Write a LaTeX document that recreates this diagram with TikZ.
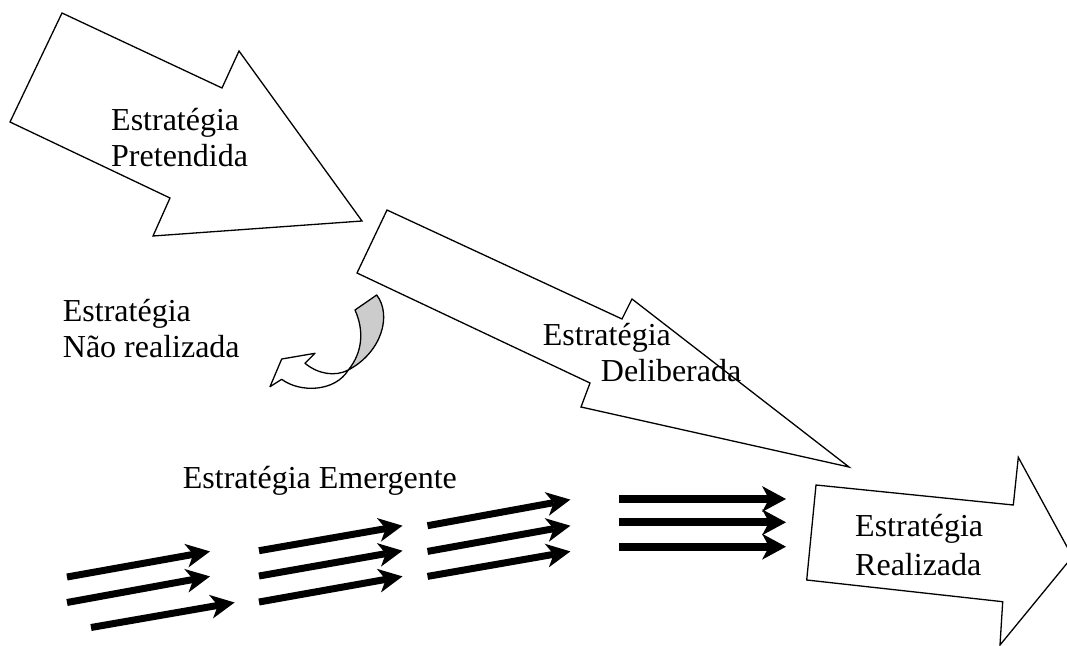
\documentclass[tikz,border=0pt]{standalone}
\usepackage{fontspec}
\setmainfont{Liberation Serif}
\usetikzlibrary{arrows.meta}
\tikzset{
  blockarrow/.style={draw=black, line width=1.3pt, fill=white, line join=miter},
  twistback/.style={draw=black, line width=1.3pt, fill=black!20, line join=round},
  lbl/.style={inner sep=0pt, anchor=base west, font=\fontsize{32}{37}\selectfont},
  emarrow/.style={line width=7pt, -{Stealth[length=24pt,width=24pt,inset=7pt,line width=0pt]}},
  flatarrow/.style={line width=8pt, -{Stealth[length=24pt,width=26pt,inset=7pt,line width=0pt]}}
}
\begin{document}
\begin{tikzpicture}[x=1pt,y=-1pt]
\useasboundingbox (0,0) rectangle (1067,645);
\clip (0,0) rectangle (1067,645);
% Estrategia Pretendida arrow
\path[blockarrow] (62,13) -- (222,88) -- (239,51) -- (362,221) -- (153,236) -- (170,198) -- (10,122) -- cycle;
\node[lbl] (p1) at (111,130) {Estratégia};
\node[lbl] (p2) at (111,166) {Pretendida};
% Estrategia Deliberada arrow
\path[blockarrow] (387,210) -- (622,319) -- (632,299) -- (849,467) -- (581,407) -- (590,383) -- (357,273) -- cycle;
\node[lbl] (d1) at (542.7,345) {Estratégia};
\node[lbl] (d2) at (600.7,381.7) {Deliberada};
% curved arrow (nao realizada)
\path[twistback] (355,310) -- (376.7,295) .. controls (392,315) and (382,352) .. (348.3,370) .. controls (363,352) and (364,330) .. (355,310) -- cycle;
\path[blockarrow, line join=round] (348.3,370) .. controls (335,377) and (318,374) .. (305,363.3) -- (315,353.3) -- (281.7,359) -- (270,386.7) -- (281.7,379.3) .. controls (300,393) and (335,392) .. (348.3,370) -- cycle;
\node[lbl] (n1) at (62.7,321) {Estratégia};
\node[lbl] (n2) at (62.7,357.5) {Não realizada};
% Estrategia Emergente
\node[lbl] (e1) at (182.7,488.3) {Estratégia Emergente};
\draw[emarrow] (67,577) -- (210,551.4);
\draw[emarrow] (67,602.5) -- (210,576.4);
\draw[emarrow] (91,627.5) -- (234.6,602.5);
\draw[emarrow] (259,550.7) -- (402.5,525.7);
\draw[emarrow] (259,576) -- (402.5,550.7);
\draw[emarrow] (259,602) -- (402.5,576.4);
\draw[emarrow] (427.5,525.7) -- (570.4,499.6);
\draw[emarrow] (427.5,551.4) -- (570.4,525.7);
\draw[emarrow] (427.5,576.4) -- (570.4,551.4);
\draw[flatarrow] (619.3,499) -- (786,499);
\draw[flatarrow] (619.3,522.3) -- (786,522.3);
\draw[flatarrow] (619.3,546.7) -- (786,546.7);
% Estrategia Realizada arrow
\path[blockarrow] (816,485) -- (1013.3,505) -- (1018.3,457.3) -- (1072.4,556.7) -- (1000,645) -- (1002.7,601.7) -- (806.7,580) -- cycle;
\node[lbl] (r1) at (855,536.7) {Estratégia};
\node[lbl] (r2) at (855,575) {Realizada};
\end{tikzpicture}
\end{document}
